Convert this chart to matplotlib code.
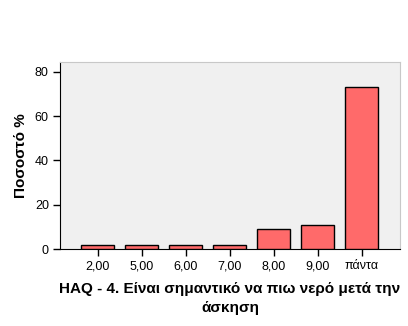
import matplotlib.pyplot as plt

categories = ['2,00', '5,00', '6,00', '7,00', '8,00', '9,00', 'πάντα']
percent = [1.79, 1.79, 1.79, 1.79, 8.93, 10.71, 73.21]
yticks = [0, 20, 40, 60, 80]

plt.rcParams['font.family'] = ['Liberation Sans', 'DejaVu Sans']

fig = plt.figure(figsize=(4.08, 3.26), dpi=100)
ax = fig.add_axes([0.147, 0.236, 0.833, 0.574])
ax.set_facecolor('#f0f0f0')

x = range(len(categories))
ax.bar(x, percent, width=0.75, color='#ff6a6a', edgecolor='black', linewidth=1, zorder=3)

ax.set_xlim(-0.864, 6.864)
ax.set_ylim(0, 84.5)
ax.set_xticks(list(x))
ax.set_xticklabels(categories, fontsize=9)
ax.set_yticks(yticks)
ax.set_yticklabels([str(v) for v in yticks], fontsize=9)
ax.tick_params(direction='out', length=5, width=1, colors='black', pad=3)

for s in ['top', 'right']:
    ax.spines[s].set_color('#c8c8c8')
for s in ['left', 'bottom']:
    ax.spines[s].set_color('black')

ax.set_xlabel('HAQ - 4. Είναι σημαντικό να πιω νερό μετά την\nάσκηση',
              fontsize=11, fontweight='bold', labelpad=7, linespacing=1.45)
ax.set_ylabel('Ποσοστό %', fontsize=11, fontweight='bold', labelpad=5)

fig.savefig('out.png', dpi=100)
